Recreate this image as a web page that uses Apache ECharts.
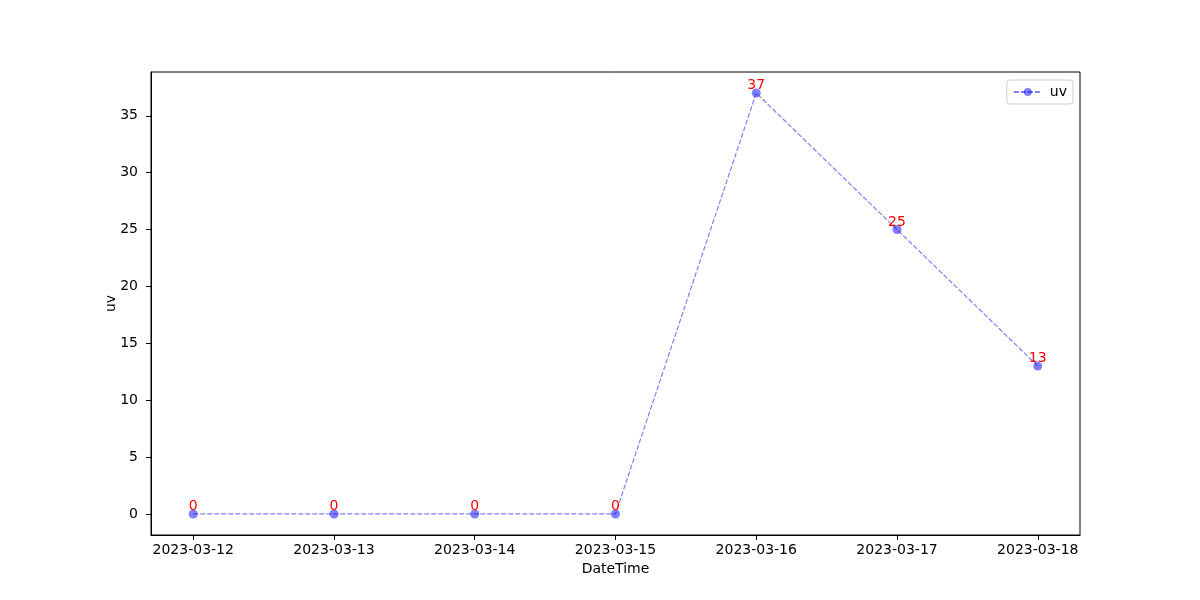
<!DOCTYPE html>
<html><head><meta charset="utf-8">
<script src="https://cdn.jsdelivr.net/npm/echarts@6/dist/echarts.min.js"></script>
<style>html,body{margin:0;padding:0;background:#fff}#c{width:1200px;height:600px}</style>
</head><body><div id="c"></div>
<script>
const categories = ['2023-03-12','2023-03-13','2023-03-14','2023-03-15','2023-03-16','2023-03-17','2023-03-18'];
const uvValues = [0, 0, 0, 0, 37, 25, 13];
const yTicks = [0, 5, 10, 15, 20, 25, 30, 35];

const xIdx = categories.map((_, i) => i);
const chart = echarts.init(document.getElementById('c'));
const font = 'DejaVu Sans';
chart.setOption({
  animation: false,
  textStyle: {fontFamily: font},
  grid: {left: 151, right: 120, top: 72, bottom: 65, show: true, borderColor: '#000', borderWidth: 1, backgroundColor: 'transparent'},
  legend: {
    right: 127, top: 80, orient: 'vertical',
    data: ['uv'],
    itemWidth: 28, itemHeight: 10, itemGap: 4,
    padding: [5, 6, 5, 6],
    borderColor: '#cccccc', borderWidth: 1, borderRadius: 3,
    textStyle: {fontFamily: font, fontSize: 14, color: '#000', padding: [0, 0, 0, 3]}
  },
  xAxis: {
    type: 'value', min: -0.3, max: 6.3,
    name: 'DateTime', nameLocation: 'middle', nameGap: 27,
    nameTextStyle: {fontFamily: font, fontSize: 14, color: '#000'},
    splitLine: {show: false},
    axisLine: {show: true, onZero: false, lineStyle: {color: '#000', width: 1}},
    axisTick: {show: true, length: 5, lineStyle: {color: '#000'}, customValues: xIdx},
    axisLabel: {fontFamily: font, fontSize: 14, color: '#000', margin: 8, customValues: xIdx,
      formatter: v => categories[Math.round(v)] || ''}
  },
  yAxis: {
    type: 'value', min: -1.85, max: 38.85,
    name: 'uv', nameLocation: 'middle', nameGap: 33, nameRotate: 90, nameMoveOverlap: false,
    nameTextStyle: {fontFamily: font, fontSize: 14, color: '#000'},
    splitLine: {show: false},
    axisLine: {show: true, onZero: false, lineStyle: {color: '#000', width: 1}},
    axisTick: {show: true, length: 5, lineStyle: {color: '#000'}, customValues: yTicks},
    axisLabel: {fontFamily: font, fontSize: 14, color: '#000', margin: 13, customValues: yTicks}
  },
  series: [{
    name: 'uv', type: 'line',
    data: uvValues.map((v, i) => [i, v]),
    symbol: 'circle', symbolSize: 9,
    itemStyle: {color: 'rgba(0,0,255,0.5)', borderWidth: 0},
    lineStyle: {color: 'rgba(0,0,255,0.5)', width: 1.2, type: [5, 2]},
    label: {show: true, position: 'top', distance: -4, color: '#ff0000', fontFamily: font, fontSize: 14,
      formatter: p => String(p.value[1])},
    emphasis: {disabled: true}
  }]
});
</script></body></html>
